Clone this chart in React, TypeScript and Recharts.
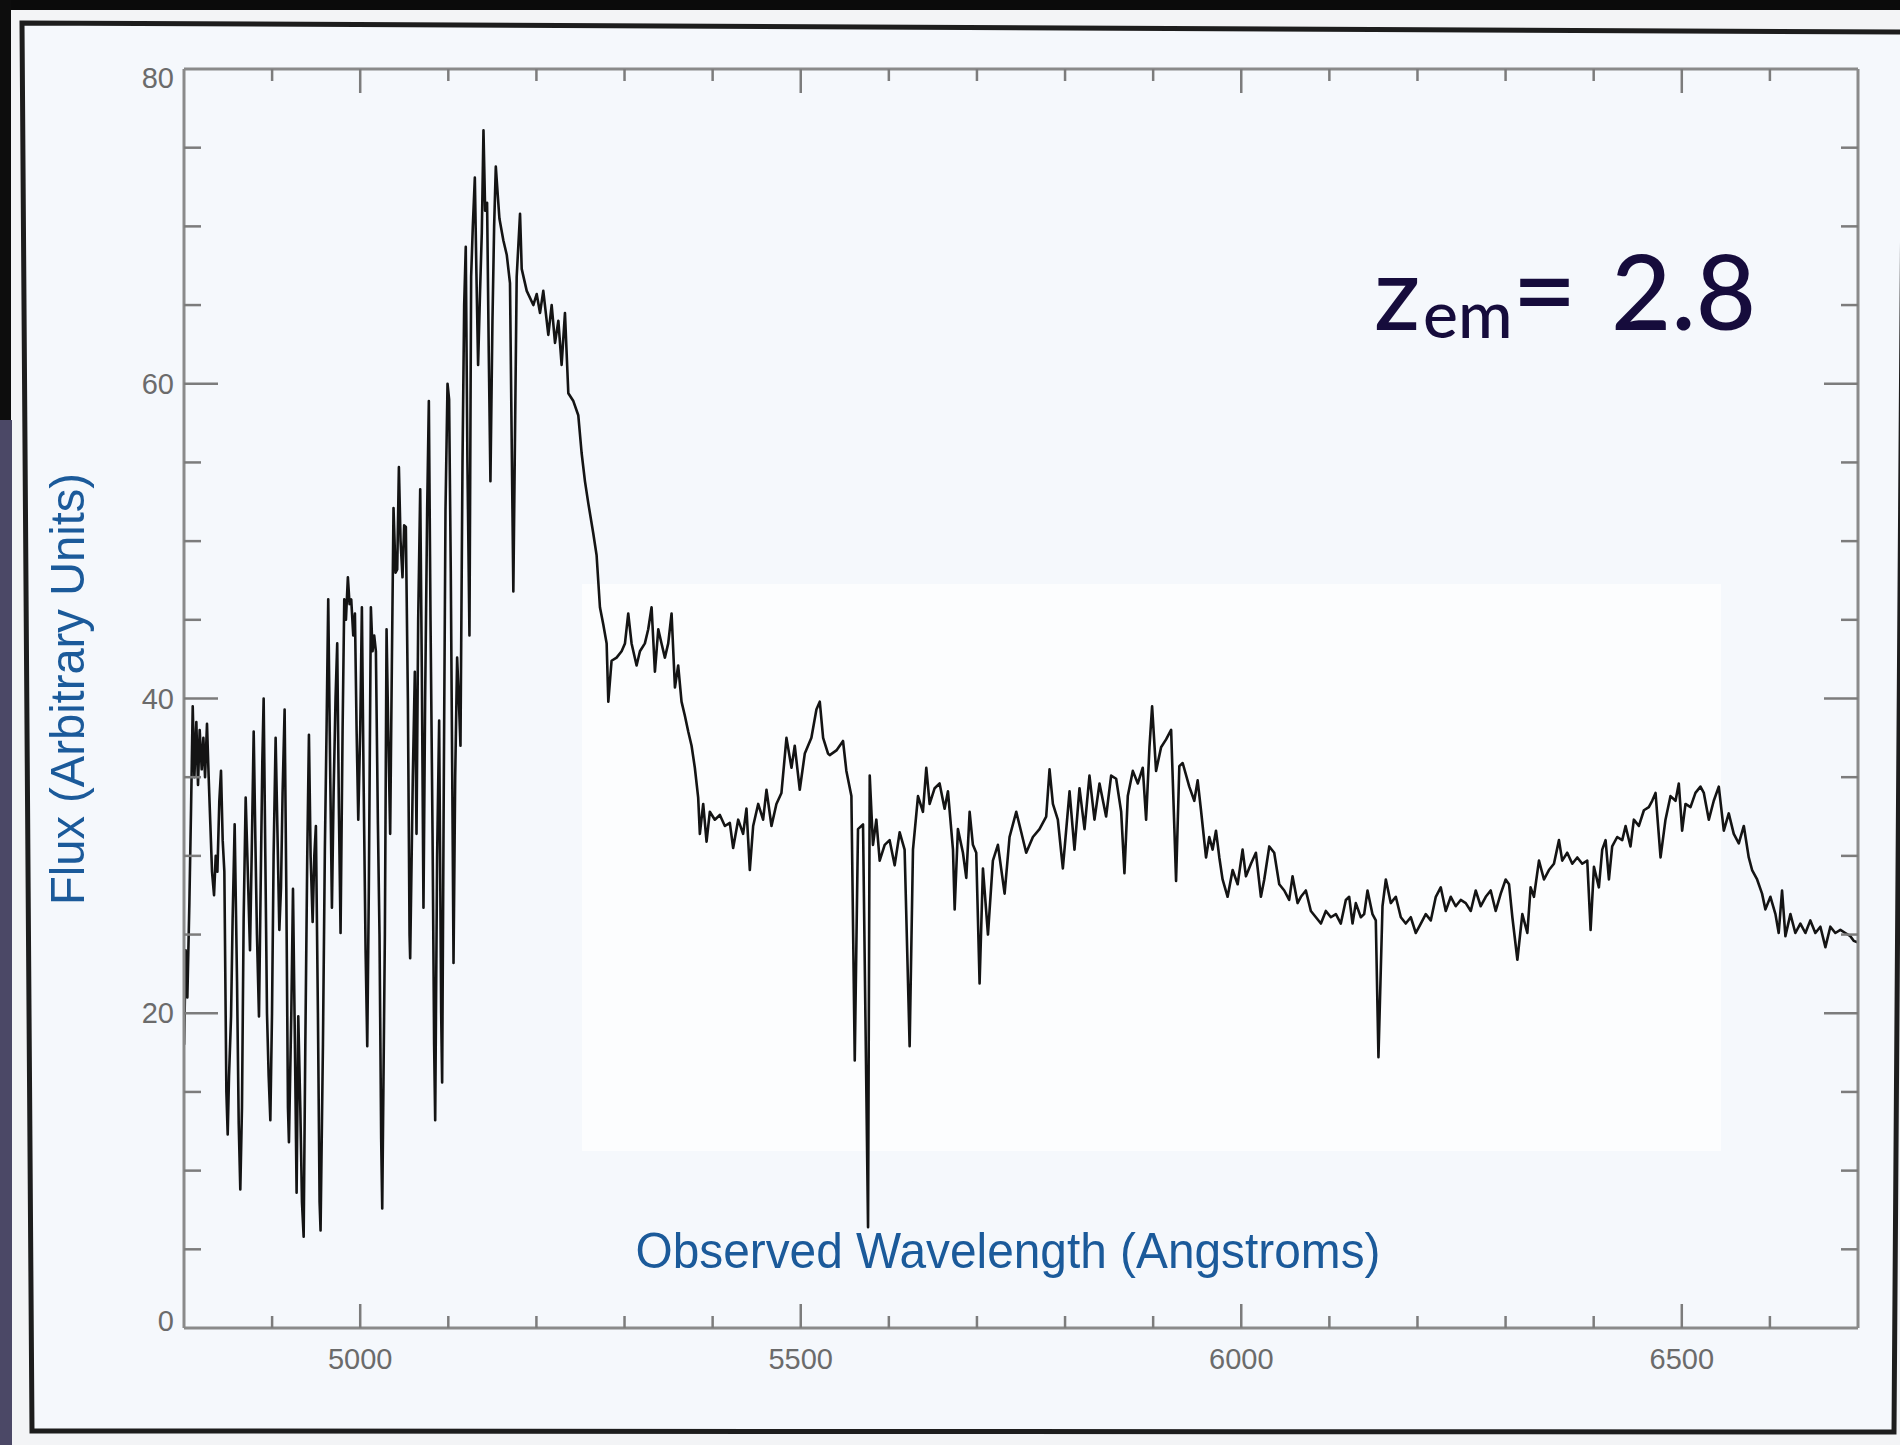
import React from 'react';
import { LineChart, Line, XAxis, YAxis } from 'recharts';

// Observed wavelength (Angstroms) of each traced sample
const wavelength = [
  4800.1, 4801.9, 4803.8, 4806.1, 4808.0, 4809.9, 4811.8, 4814.0, 4815.9, 4817.8,
  4820.1, 4822.0, 4823.9, 4826.1, 4828.0, 4829.9, 4831.8, 4834.1, 4836.0, 4837.9,
  4840.1, 4842.0, 4843.9, 4845.8, 4848.1, 4849.6, 4851.1, 4853.4, 4855.2, 4857.5,
  4860.2, 4862.1, 4863.9, 4865.8, 4867.7, 4870.0, 4871.9, 4874.9, 4876.8, 4879.1,
  4881.0, 4882.8, 4885.1, 4887.0, 4888.9, 4890.4, 4892.3, 4894.2, 4896.1, 4898.0,
  4899.9, 4901.7, 4904.0, 4905.9, 4908.2, 4910.1, 4911.9, 4914.2, 4916.1, 4918.0,
  4919.1, 4921.8, 4923.7, 4925.9, 4927.8, 4929.7, 4932.0, 4933.9, 4935.8, 4937.7,
  4939.9, 4941.8, 4943.7, 4946.0, 4947.9, 4949.7, 4952.0, 4953.9, 4955.0, 4957.7,
  4959.9, 4961.8, 4963.7, 4966.0, 4967.9, 4969.8, 4972.0, 4973.9, 4975.8, 4977.7,
  4980.0, 4981.9, 4983.8, 4986.0, 4987.9, 4989.8, 4992.1, 4994.0, 4995.9, 4997.8,
  5000.0, 5001.9, 5003.8, 5006.1, 5008.0, 5009.8, 5012.1, 5014.0, 5015.9, 5017.8,
  5020.1, 5021.9, 5023.8, 5025.0, 5028.0, 5029.9, 5031.8, 5034.0, 5035.9, 5037.8,
  5040.1, 5042.0, 5043.9, 5045.8, 5048.0, 5049.9, 5051.8, 5054.1, 5056.0, 5056.7,
  5059.7, 5062.0, 5063.9, 5065.8, 5068.1, 5069.9, 5071.8, 5073.7, 5076.0, 5077.9,
  5079.8, 5082.1, 5083.9, 5085.1, 5087.3, 5089.6, 5091.9, 5093.0, 5094.9, 5096.8,
  5099.1, 5100.9, 5102.8, 5105.1, 5105.9, 5107.8, 5110.0, 5111.9, 5113.8, 5116.1,
  5118.0, 5119.8, 5121.7, 5124.0, 5125.9, 5127.8, 5130.1, 5131.9, 5133.8, 5136.1,
  5138.0, 5139.9, 5141.8, 5144.0, 5145.9, 5147.8, 5150.1, 5152.0, 5153.9, 5156.1,
  5158.0, 5162.5, 5166.3, 5170.0, 5173.8, 5177.6, 5181.4, 5183.3, 5189.0, 5196.5,
  5200.3, 5204.1, 5207.8, 5213.5, 5217.3, 5221.1, 5224.9, 5228.6, 5232.4, 5236.2,
  5241.9, 5247.5, 5251.3, 5255.1, 5258.9, 5264.5, 5268.3, 5272.1, 5275.9, 5279.7,
  5281.6, 5285.3, 5291.0, 5296.7, 5300.5, 5304.2, 5308.0, 5313.7, 5317.5, 5323.1,
  5326.9, 5330.7, 5334.5, 5338.3, 5342.0, 5345.8, 5349.6, 5353.4, 5357.2, 5360.9,
  5364.7, 5368.5, 5372.3, 5376.1, 5379.8, 5383.6, 5385.5, 5389.3, 5393.1, 5396.8,
  5402.5, 5408.2, 5413.9, 5419.5, 5423.3, 5429.0, 5434.6, 5438.4, 5442.2, 5446.0,
  5451.7, 5457.3, 5461.1, 5466.8, 5472.4, 5478.1, 5483.8, 5489.5, 5493.2, 5498.9,
  5504.6, 5512.1, 5517.8, 5521.6, 5525.4, 5531.0, 5532.9, 5540.5, 5548.0, 5551.8,
  5557.5, 5561.3, 5565.0, 5570.7, 5576.4, 5578.3, 5582.0, 5585.8, 5589.6, 5595.3,
  5600.9, 5606.6, 5612.3, 5617.9, 5623.6, 5627.4, 5633.1, 5638.7, 5642.5, 5646.3,
  5652.0, 5657.6, 5663.3, 5667.1, 5672.8, 5674.7, 5678.4, 5684.1, 5687.9, 5691.7,
  5695.4, 5699.2, 5703.0, 5706.8, 5712.5, 5718.1, 5723.8, 5731.4, 5737.0, 5744.6,
  5750.3, 5755.9, 5763.5, 5771.0, 5778.6, 5782.4, 5786.2, 5791.8, 5797.5, 5805.1,
  5810.7, 5816.4, 5822.1, 5827.7, 5833.4, 5839.1, 5846.6, 5852.3, 5858.0, 5863.7,
  5867.4, 5871.2, 5876.9, 5882.6, 5888.2, 5892.0, 5895.8, 5898.8, 5903.3, 5909.0,
  5914.7, 5920.4, 5924.1, 5926.0, 5929.7, 5933.5, 5941.0, 5946.7, 5950.5, 5954.3,
  5960.0, 5963.7, 5967.5, 5971.3, 5975.1, 5978.8, 5984.5, 5990.2, 5995.9, 6001.5,
  6005.3, 6011.0, 6016.6, 6022.3, 6026.1, 6031.8, 6037.4, 6043.1, 6048.8, 6054.4,
  6058.2, 6063.9, 6067.7, 6073.3, 6079.0, 6084.7, 6090.4, 6096.0, 6101.7, 6107.4,
  6113.0, 6118.7, 6122.5, 6126.3, 6130.0, 6135.7, 6139.5, 6143.3, 6148.9, 6152.7,
  6155.7, 6160.3, 6164.1, 6169.7, 6175.4, 6181.1, 6186.7, 6192.4, 6198.1, 6203.8,
  6209.4, 6215.1, 6220.8, 6226.4, 6232.1, 6237.8, 6243.4, 6249.1, 6254.8, 6260.5,
  6266.1, 6271.8, 6277.5, 6283.1, 6288.8, 6294.5, 6300.1, 6303.9, 6307.7, 6313.4,
  6319.0, 6324.7, 6328.4, 6332.2, 6337.9, 6343.6, 6349.2, 6354.9, 6360.6, 6364.3,
  6370.0, 6375.7, 6381.4, 6387.0, 6392.7, 6396.5, 6400.3, 6405.9, 6409.7, 6413.5,
  6417.3, 6421.0, 6426.7, 6432.4, 6436.2, 6441.8, 6445.6, 6451.3, 6457.0, 6462.6,
  6466.4, 6470.2, 6475.9, 6481.5, 6487.2, 6492.9, 6496.6, 6500.4, 6504.2, 6509.9,
  6515.5, 6521.2, 6525.0, 6530.7, 6536.3, 6542.0, 6547.7, 6553.3, 6559.0, 6564.7,
  6570.4, 6576.0, 6579.8, 6585.5, 6591.1, 6594.9, 6600.6, 6606.3, 6610.0, 6613.8,
  6617.6, 6623.3, 6628.9, 6634.6, 6640.3, 6645.9, 6651.6, 6657.3, 6663.0, 6668.6,
  6674.3, 6680.0, 6685.6, 6691.3, 6695.1, 6700.0,
];

// Flux (arbitrary units) at each wavelength above
const flux = [
  18, 24, 21, 27, 33, 39.5, 35, 38.5, 34.5, 38,
  35.5, 37.5, 35, 38.4, 35, 32, 29, 27.5, 30, 29,
  33.5, 35.4, 31, 29, 15, 12.3, 16, 19.8, 26, 32,
  22, 13, 8.8, 14, 26, 33.7, 30, 24, 30, 37.9,
  31, 25, 19.8, 28, 36, 40, 30, 20, 16, 13.2,
  20, 30, 37.5, 32, 25.3, 28, 34, 39.3, 28, 14,
  11.8, 20, 27.9, 18, 8.6, 19.8, 14, 8, 5.8, 18,
  30, 37.7, 30, 25.8, 30, 31.9, 20, 8, 6.2, 18,
  30.5, 38, 46.3, 35, 26.7, 34, 40, 43.5, 33, 25.1,
  38, 46.3, 45, 47.7, 46, 46.3, 44, 45.4, 38, 32.3,
  38, 45.8, 35, 24, 17.9, 28, 45.8, 43, 44, 43,
  32, 25, 12, 7.6, 25, 44.4, 38, 31.4, 42, 52.1,
  48, 48.2, 54.7, 50, 47.7, 51, 50.9, 40, 25, 23.5,
  35, 41.7, 31.4, 45, 53.3, 42, 26.7, 40, 52, 58.9,
  45, 31.4, 18, 13.2, 30, 38.6, 20, 15.6, 35, 52,
  60, 59, 48, 30, 23.2, 35, 42.6, 40, 37, 55,
  65, 68.7, 55, 44, 66.8, 70, 73.1, 67, 61.2, 66,
  69.6, 76.1, 71, 71.5, 62, 53.8, 64, 70, 73.8, 72,
  70.5, 69.1, 68.2, 66.4, 46.8, 66.8, 70.8, 67.3, 65.9, 65,
  65.7, 64.5, 65.9, 63.1, 65, 62.6, 64, 61.2, 64.5, 59.4,
  58.9, 58, 55.6, 53.8, 52.4, 50.5, 49.1, 45.8, 44.7, 43.5,
  39.8, 42.4, 42.6, 43, 43.5, 45.4, 43.5, 42.1, 43, 43.5,
  44.4, 45.8, 41.7, 44.4, 43.5, 42.6, 43.5, 45.4, 40.7, 42.1,
  39.8, 38.9, 37.9, 37, 35.6, 33.7, 31.4, 33.3, 30.9, 32.8,
  32.3, 32.6, 31.9, 32.1, 30.5, 32.3, 31.4, 33, 29.1, 31.9,
  33.3, 32.3, 34.2, 31.9, 33.3, 34, 37.5, 35.6, 37, 34.2,
  36.5, 37.5, 39.3, 39.8, 37.5, 36.5, 36.4, 36.7, 37.3, 35.4,
  33.8, 17, 31.7, 32, 6.4, 35.1, 30.7, 32.3, 29.7, 30.7,
  31, 29.4, 31.5, 30.4, 17.9, 30.4, 33.8, 32.8, 35.6, 33.3,
  34.3, 34.6, 33, 34.1, 30.4, 26.6, 31.7, 30.2, 28.6, 32.8,
  30.7, 30.2, 21.9, 29.2, 25, 29.7, 30.7, 27.6, 31.2, 32.8,
  31.5, 30.2, 31.2, 31.7, 32.5, 35.5, 33.3, 32.3, 29.2, 34.1,
  30.4, 34.3, 31.7, 35.1, 32.3, 34.6, 32.5, 35.1, 34.9, 32.8,
  28.9, 33.8, 35.4, 34.6, 35.6, 32.3, 36.9, 39.5, 35.4, 36.9,
  37.4, 38, 31.7, 28.4, 35.7, 35.9, 34.4, 33.5, 34.8, 32.9,
  29.9, 31.2, 30.4, 31.6, 29.9, 28.5, 27.4, 29.1, 28.2, 30.4,
  28.7, 29.5, 30.2, 27.4, 28.5, 30.6, 30.2, 28.2, 27.8, 27.2,
  28.7, 27, 27.4, 27.8, 26.5, 26.1, 25.7, 26.5, 26.1, 26.3,
  25.7, 27.2, 27.4, 25.7, 27, 26.1, 26.3, 27.8, 26.3, 25.9,
  17.2, 26.8, 28.5, 27, 27.4, 26.1, 25.7, 26.1, 25.1, 25.7,
  26.3, 25.9, 27.4, 28, 26.5, 27.4, 26.8, 27.2, 27, 26.5,
  27.8, 26.8, 27.4, 27.8, 26.5, 27.6, 28.5, 28.2, 26.1, 23.4,
  26.3, 25.1, 28, 27.4, 29.7, 28.5, 29.1, 29.5, 31, 29.7,
  30.2, 29.5, 29.9, 29.5, 29.7, 25.3, 29.3, 28, 30.4, 31,
  28.5, 30.6, 31.2, 31, 31.9, 30.6, 32.3, 31.9, 32.9, 33.1,
  33.5, 34, 29.9, 32.3, 33.8, 33.5, 34.6, 31.6, 33.3, 33.1,
  34, 34.4, 34, 32.3, 33.5, 34.4, 31.6, 32.7, 31.4, 30.8,
  31.9, 29.9, 29.1, 28.5, 27.6, 26.6, 27.4, 26.3, 25.1, 27.8,
  24.9, 26.3, 25.1, 25.7, 25.1, 25.9, 25.1, 25.5, 24.2, 25.5,
  25.1, 25.3, 25.1, 24.9, 24.6, 24.5,
];

// Axis ticks: every 100 A / 5 units, labelled every 500 A / 20 units
const xTicks = [4900, 5000, 5100, 5200, 5300, 5400, 5500, 5600, 5700, 5800, 5900, 6000, 6100, 6200, 6300, 6400, 6500, 6600];
const xLabels = [5000, 5500, 6000, 6500];
const yTicks = [0, 5, 10, 15, 20, 25, 30, 35, 40, 45, 50, 55, 60, 65, 70, 75, 80];
const yLabels = [0, 20, 40, 60, 80];

const spectrum = wavelength.map((w, i) => ({ w, f: flux[i] }));

const AXIS_COLOR = '#8a8a8a';
const TICK_COLOR = '#7c7c7c';
const LABEL_COLOR = '#6b6b6b';
const TITLE_COLOR = '#1b5a9a';
const TICK_FONT = '"Liberation Sans", Arial, sans-serif';

const BottomTick = (props: any) => {
  const { x, y, payload } = props;
  const v = payload.value;
  const major = v % 500 === 0;
  return (
    <g>
      <line x1={x} x2={x} y1={y} y2={y - (major ? 24 : 12)} stroke={TICK_COLOR} strokeWidth={2.5} />
      {xLabels.includes(v) && (
        <text x={x} y={y + 41} textAnchor="middle" fontSize={29} fontFamily={TICK_FONT} fill={LABEL_COLOR}>
          {v}
        </text>
      )}
    </g>
  );
};

const TopTick = (props: any) => {
  const { x, y, payload } = props;
  const major = payload.value % 500 === 0;
  return <line x1={x} x2={x} y1={y} y2={y + (major ? 24 : 12)} stroke={TICK_COLOR} strokeWidth={2.5} />;
};

const LeftTick = (props: any) => {
  const { x, y, payload } = props;
  const v = payload.value;
  const major = v % 20 === 0;
  const edge = v === 0 || v === 80;
  // corner labels are nudged inside the frame
  const shift = v === 80 ? 9 : v === 0 ? -7 : 0;
  return (
    <g>
      {!edge && <line x1={x} x2={x + (major ? 34 : 17)} y1={y} y2={y} stroke={TICK_COLOR} strokeWidth={2.5} />}
      {yLabels.includes(v) && (
        <text x={x - 10} y={y + shift + 10} textAnchor="end" fontSize={29} fontFamily={TICK_FONT} fill={LABEL_COLOR}>
          {v}
        </text>
      )}
    </g>
  );
};

const RightTick = (props: any) => {
  const { x, y, payload } = props;
  const v = payload.value;
  if (v === 0 || v === 80) return <g />;
  const major = v % 20 === 0;
  return <line x1={x} x2={x - (major ? 34 : 17)} y1={y} y2={y} stroke={TICK_COLOR} strokeWidth={2.5} />;
};

const Frame = () => (
  <svg width={1900} height={1445} style={{ position: 'absolute', left: 0, top: 0 }}>
    <rect x={0} y={0} width={1900} height={1445} fill="#f3f4f6" />
    <polygon points="22,23 1904,32 1894,1432 32,1431" fill="#f5f8fc" stroke="#1d1d1d" strokeWidth={5} />
    <rect x={582} y={584} width={1139} height={567} fill="#fcfdfe" />
    <rect x={0} y={0} width={1900} height={10} fill="#0b0b0b" />
    <rect x={0} y={0} width={11} height={420} fill="#0d0d0d" />
    <rect x={0} y={420} width={12} height={1025} fill="#4b4866" />
  </svg>
);

const Labels = () => (
  <svg width={1900} height={1445} style={{ position: 'absolute', left: 0, top: 0, pointerEvents: 'none' }}>
    <text
      x={1008}
      y={1268}
      textAnchor="middle"
      fontSize={50}
      fontFamily='"Liberation Sans", Arial, sans-serif'
      fill={TITLE_COLOR}
      textLength={745}
      lengthAdjust="spacingAndGlyphs"
    >
      Observed Wavelength (Angstroms)
    </text>
    <text
      x={84}
      y={689}
      textAnchor="middle"
      fontSize={49}
      fontFamily='"Liberation Sans", Arial, sans-serif'
      fill={TITLE_COLOR}
      textLength={432}
      lengthAdjust="spacingAndGlyphs"
      transform="rotate(-90 84 689)"
    >
      Flux (Arbitrary Units)
    </text>
    <text fill="#160c3c" fontFamily="Lato, 'Open Sans', sans-serif" fontWeight={500}>
      <tspan x={1374} y={330} fontSize={102}>z</tspan>
      <tspan x={1423} y={338} fontSize={66}>em</tspan>
      <tspan x={1512} y={330} fontSize={112}>=</tspan>
      <tspan x={1611} y={330} fontSize={104}>2.8</tspan>
    </text>
  </svg>
);

export default function App() {
  return (
    <div style={{ position: 'absolute', left: 0, top: 0, width: 1900, height: 1445, overflow: 'hidden' }}>
      <Frame />
      <div style={{ position: 'absolute', left: 0, top: 0 }}>
        <LineChart width={1900} height={1445} data={spectrum} margin={{ top: 0, right: 0, bottom: 0, left: 0 }}>
          <XAxis
            xAxisId="bottom"
            dataKey="w"
            type="number"
            domain={[4800, 6700]}
            allowDataOverflow
            ticks={xTicks}
            interval={0}
            height={117}
            tickSize={0}
            tickMargin={0}
            tickLine={false}
            axisLine={{ stroke: AXIS_COLOR, strokeWidth: 3 }}
            tick={BottomTick}
          />
          <XAxis
            xAxisId="top"
            orientation="top"
            dataKey="w"
            type="number"
            domain={[4800, 6700]}
            allowDataOverflow
            ticks={xTicks}
            interval={0}
            height={69}
            tickSize={0}
            tickMargin={0}
            tickLine={false}
            axisLine={{ stroke: AXIS_COLOR, strokeWidth: 3 }}
            tick={TopTick}
          />
          <YAxis
            yAxisId="left"
            type="number"
            domain={[0, 80]}
            allowDataOverflow
            ticks={yTicks}
            interval={0}
            width={184}
            tickSize={0}
            tickMargin={0}
            tickLine={false}
            axisLine={{ stroke: AXIS_COLOR, strokeWidth: 3 }}
            tick={LeftTick}
          />
          <YAxis
            yAxisId="right"
            orientation="right"
            type="number"
            domain={[0, 80]}
            allowDataOverflow
            ticks={yTicks}
            interval={0}
            width={42}
            tickSize={0}
            tickMargin={0}
            tickLine={false}
            axisLine={{ stroke: AXIS_COLOR, strokeWidth: 3 }}
            tick={RightTick}
          />
          <Line
            xAxisId="bottom"
            yAxisId="left"
            type="linear"
            dataKey="f"
            stroke="#141414"
            strokeWidth={2.6}
            strokeLinejoin="round"
            dot={false}
            activeDot={false}
            isAnimationActive={false}
          />
        </LineChart>
      </div>
      <Labels />
    </div>
  );
}
